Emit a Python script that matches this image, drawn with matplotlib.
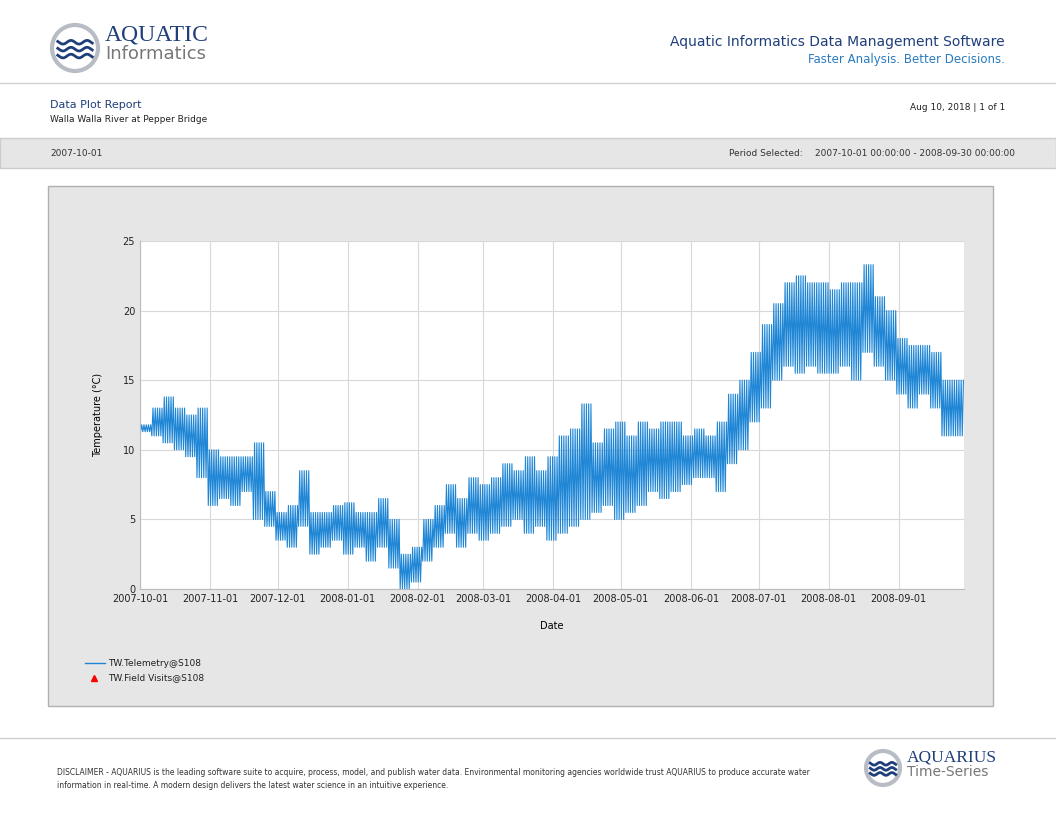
import numpy as np
import pandas as pd
import matplotlib
matplotlib.use("Agg")
import matplotlib.pyplot as plt
from matplotlib.patches import Rectangle, Circle

W, H = 1056, 816

# 5-day envelope of the telemetry record (deg C)
start_date = "2007-10-01"
step_days = 5
temp_low = [11.3, 11, 10.5, 10, 9.5, 8, 6, 6.5, 6, 7, 5, 4.5, 3.5, 3, 4.5, 2.5, 3, 3.5, 2.5,
            3, 2, 3, 1.5, 0, 0.5, 2, 3, 4, 3, 4, 3.5, 4, 4.5, 5, 4, 4.5, 3.5, 4, 4.5, 5,
            5.5, 6, 5, 5.5, 6, 7, 6.5, 7, 7.5, 8, 8, 7, 9, 10, 12, 13, 15, 16, 15.5, 16,
            15.5, 15.5, 16, 15, 17, 16, 15, 14, 13, 14, 13, 11, 11]
temp_high = [11.8, 13, 13.8, 13, 12.5, 13, 10, 9.5, 9.5, 9.5, 10.5, 7, 5.5, 6, 8.5, 5.5, 5.5,
             6, 6.2, 5.5, 5.5, 6.5, 5, 2.5, 3, 5, 6, 7.5, 6.5, 8, 7.5, 8, 9, 8.5, 9.5, 8.5,
             9.5, 11, 11.5, 13.3, 10.5, 11.5, 12, 11, 12, 11.5, 12, 12, 11, 11.5, 11, 12,
             14, 15, 17, 19, 20.5, 22, 22.5, 22, 22, 21.5, 22, 22, 23.3, 21, 20, 18, 17.5,
             17.5, 17, 15, 15]
yticks = [0, 5, 10, 15, 20, 25]
xtick_labels = ["2007-10-01", "2007-11-01", "2007-12-01", "2008-01-01", "2008-02-01",
                "2008-03-01", "2008-04-01", "2008-05-01", "2008-06-01", "2008-07-01",
                "2008-08-01", "2008-09-01"]

BLUE = "#1f86d6"
NAVY = "#1f3f7a"

def fx(x): return x / W
def fy(y): return 1 - y / H

fig = plt.figure(figsize=(W / 100, H / 100), dpi=100)
fig.patch.set_facecolor("white")

def logo(cx, cy, r, big, small, fs1, fs2):
    ax = fig.add_axes([0, 0, 1, 1], zorder=5)
    ax.set_xlim(0, W); ax.set_ylim(H, 0); ax.axis("off")
    ax.add_patch(Circle((cx, cy), r, facecolor="white", edgecolor="#b8bcc4", lw=3))
    t = np.linspace(-0.75 * r, 0.75 * r, 40)
    for off in [-0.25, 0.05, 0.35]:
        ax.plot(cx + t, cy + off * r + 0.08 * r * np.sin(t / r * 9), color=NAVY, lw=2)
    ax.text(cx + r + 7, cy - 3, big, color=NAVY, fontsize=fs1, va="bottom", family="Liberation Serif")
    ax.text(cx + r + 7, cy - 3, small, color="#777777", fontsize=fs2, va="top")

# page furniture
bg = fig.add_axes([0, 0, 1, 1], zorder=0)
bg.set_xlim(0, W); bg.set_ylim(H, 0); bg.axis("off")
bg.plot([0, W], [83, 83], color="#d0d0d0", lw=1)
bg.plot([0, W], [738, 738], color="#d0d0d0", lw=1)
bg.add_patch(Rectangle((0, 138), W, 30, facecolor="#e6e6e6", edgecolor="#cccccc", lw=1))
bg.add_patch(Rectangle((48, 186), 945, 520, facecolor="#e6e6e6", edgecolor="#b0b0b0", lw=1))
bg.text(1005, 42, "Aquatic Informatics Data Management Software", color=NAVY, fontsize=10,
        ha="right", va="center")
bg.text(1005, 60, "Faster Analysis. Better Decisions.", color="#2a7bc0", fontsize=8.5,
        ha="right", va="center")
bg.text(50, 105, "Data Plot Report", color=NAVY, fontsize=8, va="center")
bg.text(50, 120, "Walla Walla River at Pepper Bridge", color="#222222", fontsize=6.5, va="center")
bg.text(1005, 107, "Aug 10, 2018 | 1 of 1", color="#222222", fontsize=6.5, ha="right", va="center")
bg.text(50, 153, "2007-10-01", color="#333333", fontsize=6.5, va="center")
bg.text(803, 153, "Period Selected:", color="#333333", fontsize=6.5, ha="right", va="center")
bg.text(1015, 153, "2007-10-01 00:00:00 - 2008-09-30 00:00:00", color="#333333", fontsize=6.5,
        ha="right", va="center")
bg.text(57, 779, "DISCLAIMER - AQUARIUS is the leading software suite to acquire, process, model, and publish water data. "
        "Environmental monitoring agencies worldwide trust AQUARIUS to produce accurate water\n"
        "information in real-time. A modern design delivers the latest water science in an intuitive experience.",
        color="#333333", fontsize=5.5, va="center", linespacing=1.5)
bg.plot([85, 105], [663, 663], color=BLUE, lw=1)
bg.text(108, 663, "TW.Telemetry@S108", fontsize=6.5, va="center", color="#222222")
bg.plot([94], [678], marker="^", color="red", ms=5)
bg.text(108, 678, "TW.Field Visits@S108", fontsize=6.5, va="center", color="#222222")

logo(75, 48, 23, "AQUATIC", "Informatics", 17, 13)
logo(883, 768, 17, "AQUARIUS", "Time-Series", 12.5, 10)

# chart: daily swing between the read low and high of each 5-day block
xs, ys = [], []
for i, (lo, hi) in enumerate(zip(temp_low, temp_high)):
    d0 = pd.Timestamp(start_date) + pd.Timedelta(days=step_days * i)
    for k in range(step_days):
        d = d0 + pd.Timedelta(days=k)
        xs += [d + pd.Timedelta(hours=6), d + pd.Timedelta(hours=18)]
        ys += [lo, hi]

ax = fig.add_axes([fx(140), fy(589), fx(964) - fx(140), fy(241) - fy(589)], zorder=2)
ax.set_facecolor("white")
ax.plot(xs, ys, color=BLUE, lw=0.8)
ax.set_xlim(pd.Timestamp("2007-10-01"), pd.Timestamp("2008-09-30"))
ax.set_ylim(0, 25)
ax.set_yticks(yticks)
ax.set_xticks([pd.Timestamp(s) for s in xtick_labels])
ax.set_xticklabels(xtick_labels)
ax.tick_params(labelsize=7, length=0, colors="#222222")
ax.grid(True, color="#d8d8d8", lw=0.8)
for s in ax.spines.values():
    s.set_visible(False)
ax.spines["left"].set_visible(True); ax.spines["left"].set_color("#bbbbbb")
ax.spines["bottom"].set_visible(True); ax.spines["bottom"].set_color("#bbbbbb")
ax.set_xlabel("Date", fontsize=7, labelpad=12)
ax.set_ylabel("Temperature (°C)", fontsize=7, labelpad=14)

fig.savefig("out.png", dpi=100)
